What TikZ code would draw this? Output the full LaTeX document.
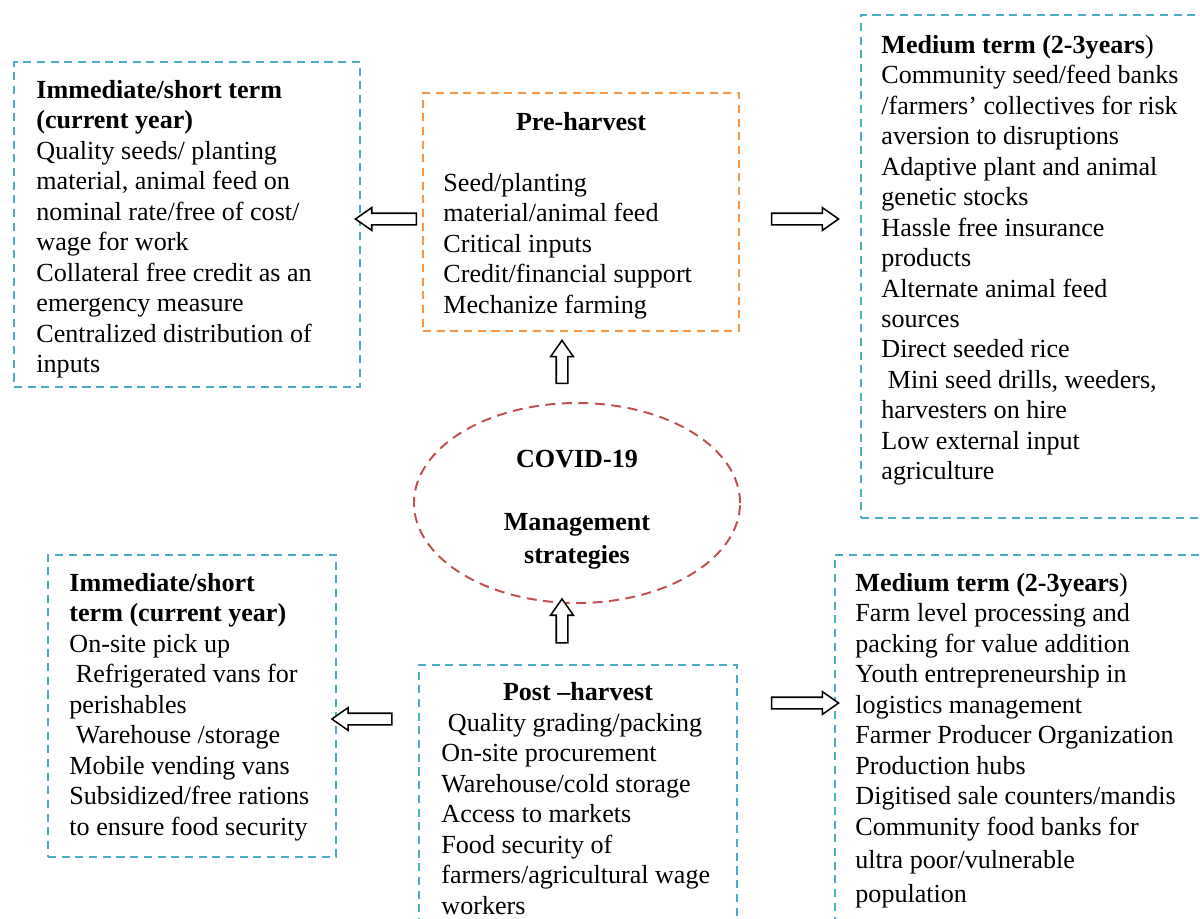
\documentclass[tikz,border=0pt]{standalone}
\usepackage{fontspec}
\setmainfont{Liberation Serif}
\usetikzlibrary{shapes.geometric,shapes.arrows,fit}
\definecolor{boxcyan}{HTML}{4BACC6}
\definecolor{boxorange}{HTML}{F79646}
\definecolor{ovalred}{HTML}{C0504D}

\begin{document}
\begin{tikzpicture}[x=0.46pt,y=-0.46pt,
		font=\fontsize{12}{14}\selectfont,
		cyanbox/.style={draw=boxcyan, line width=0.9pt, dash pattern=on 3.7pt off 2.6pt, inner sep=0pt},
		orangebox/.style={draw=boxorange, line width=0.9pt, dash pattern=on 3.7pt off 2.6pt, inner sep=0pt},
		txt/.style={anchor=north west, align=left, inner sep=0pt},
		boxtitle/.style={anchor=base, inner sep=0pt, font=\fontsize{12}{14}\selectfont\bfseries},
		fatarrow/.style={single arrow, draw=black, fill=white, line width=0.7pt, inner xsep=0pt, inner ysep=2.3pt, single arrow head extend=2.6pt, single arrow tip angle=70, minimum width=0pt}]
		\useasboundingbox (0,0) rectangle (1200,919);
		\clip (0,0) rectangle (1200,919);

		\node[cyanbox, fit={(14,62) (360,387)}] (shortpre) {};
		\node[orangebox, fit={(423,93) (739,331)}] (preharvest) {};
		\node[cyanbox, fit={(861,15) (1215,518)}] (mediumpre) {};
		\node[cyanbox, fit={(48,555) (336,857)}] (shortpost) {};
		\node[cyanbox, fit={(419,665) (737,940)}] (postharvest) {};
		\node[cyanbox, fit={(835,555) (1215,940)}] (mediumpost) {};

		\node[ellipse, draw=ovalred, line width=0.9pt, dash pattern=on 4.6pt off 3pt, minimum width=150pt, minimum height=92pt, inner sep=0pt] (covid) at (577,503) {};
		\node[align=center, inner sep=0pt, font=\fontsize{12}{15}\selectfont\bfseries] (covidtext) at (577,510) {COVID-19\\[14pt]Management\\strategies};

		\node[txt] (shortpretext) at (36,80) {\textbf{Immediate/short term}\\\textbf{(current year)}\\Quality seeds/ planting\\material, animal feed on\\nominal rate/free of cost/\\wage for work\\Collateral free credit as an\\emergency measure\\Centralized distribution of\\inputs};

		\node[boxtitle] (pretitle) at (581,130) {Pre-harvest};
		\node[txt] (pretext) at (443,173) {Seed/planting\\material/animal feed\\Critical inputs\\Credit/financial support\\Mechanize farming};

		\node[txt] (mediumpretext) at (881,35) {\textbf{Medium term (2-3years})\\Community seed/feed banks\\/farmers' collectives for risk\\aversion to disruptions\\Adaptive plant and animal\\genetic stocks\\Hassle free insurance\\products\\Alternate animal feed\\sources\\Direct seeded rice\\\hspace*{3pt}Mini seed drills, weeders,\\harvesters on hire\\Low external input\\agriculture};

		\node[txt] (shortposttext) at (69,573) {\textbf{Immediate/short}\\\textbf{term (current year)}\\On-site pick up\\\hspace*{3pt}Refrigerated vans for\\perishables\\\hspace*{3pt}Warehouse /storage\\Mobile vending vans\\Subsidized/free rations\\to ensure food security};

		\node[boxtitle] (posttitle) at (578,700) {Post --harvest};
		\node[txt] (posttext) at (441,713) {\hspace*{3pt}Quality grading/packing\\On-site procurement\\Warehouse/cold storage\\Access to markets\\Food security of\\farmers/agricultural wage\\workers};

		\node[txt] (mediumposttext) at (855,573) {\textbf{Medium term (2-3years})\\Farm level processing and\\packing for value addition\\Youth entrepreneurship in\\logistics management\\Farmer Producer Organization\\Production hubs\\Digitised sale counters/mandis\\Community food banks for\\[1.5pt]ultra poor/vulnerable\\[1.5pt]population};

		\node[fatarrow, minimum height=28pt, rotate=180] (preleft) at (390,219) {};
		\node[fatarrow, minimum height=30.8pt] (preright) at (801,219) {};
		\node[fatarrow, minimum height=19.8pt, rotate=90] (preup) at (562,366) {};
		\node[fatarrow, minimum height=20.2pt, rotate=90] (postup) at (562,625) {};
		\node[fatarrow, minimum height=27.6pt, rotate=180] (postleft) at (366,719) {};
		\node[fatarrow, minimum height=30.8pt] (postright) at (801,703) {};
	\end{tikzpicture}
\end{document}
